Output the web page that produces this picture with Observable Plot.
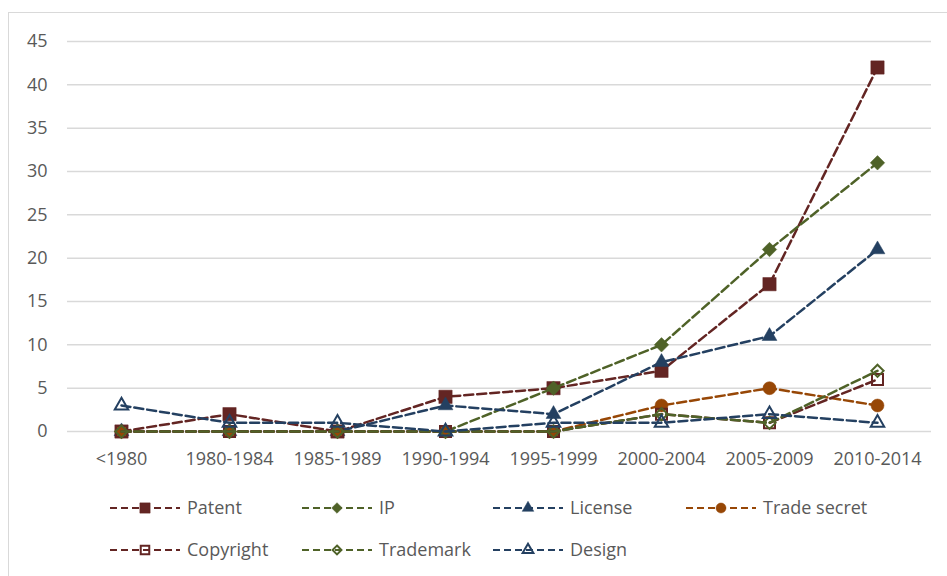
<!DOCTYPE html>
<html><head><meta charset="utf-8">
<script src="https://cdn.jsdelivr.net/npm/d3@7"></script>
<script src="https://cdn.jsdelivr.net/npm/@observablehq/plot@0.6"></script>
<style>
body{margin:0;background:#fff;width:947px;height:576px;overflow:hidden;position:relative;font-family:"Open Sans",sans-serif;}
#frame{position:absolute;left:8px;top:12px;width:1200px;height:800px;border:1px solid #d9d9d9;}
#chart{position:absolute;left:0;top:0;}
#legend{position:absolute;left:0;top:480px;}
</style></head><body>
<div id="frame"></div>
<div id="chart"></div>
<div id="legend"></div>
<script>
const periods = ["<1980","1980-1984","1985-1989","1990-1994","1995-1999","2000-2004","2005-2009","2010-2014"];
const patent      = [0, 2, 0, 4, 5, 7, 17, 42];
const ip          = [0, 0, 0, 0, 5, 10, 21, 31];
const license     = [0, 0, 0, 3, 2, 8, 11, 21];
const tradeSecret = [0, 0, 0, 0, 0, 3, 5, 3];
const copyright   = [0, 0, 0, 0, 0, 2, 1, 6];
const trademark   = [0, 0, 0, 0, 0, 2, 1, 7];
const design      = [3, 1, 1, 0, 1, 1, 2, 1];
const yTicks = [0, 5, 10, 15, 20, 25, 30, 35, 40, 45];

const RED = "#632523", GREEN = "#4f6228", BLUE = "#244061", ORANGE = "#974706";
const series = [
  {name:"Patent", values:patent, color:RED, symbol:"square", filled:true, r:7.5, lr:5.8},
  {name:"IP", values:ip, color:GREEN, symbol:"diamond2", filled:true, r:6.5, lr:4.8},
  {name:"License", values:license, color:BLUE, symbol:"triangle", filled:true, r:5.5, lr:4.3},
  {name:"Trade secret", values:tradeSecret, color:ORANGE, symbol:"circle", filled:true, r:6.5, lr:5},
  {name:"Copyright", values:copyright, color:RED, symbol:"square", filled:false, r:6.2, lr:4.8},
  {name:"Trademark", values:trademark, color:GREEN, symbol:"diamond2", filled:false, r:5.5, lr:4},
  {name:"Design", values:design, color:BLUE, symbol:"triangle", filled:false, r:5, lr:4}
];
const rows = s => periods.map((p, i) => ({period:p, value:s.values[i], series:s.name}));

const marks = [
  Plot.ruleY(yTicks, {stroke:"#d9d9d9", strokeWidth:1.5}),
  Plot.axisY(yTicks, {tickSize:0, tickPadding:20, fontSize:18, fill:"#595959"}),
  Plot.axisX({tickSize:0, tickPadding:21, fontSize:18, fill:"#595959"})
];
for (const s of series) {
  marks.push(Plot.line(rows(s), {x:"period", y:"value", stroke:s.color, strokeWidth:2.5, strokeDasharray:"9,4"}));
  marks.push(Plot.dot(rows(s), {x:"period", y:"value", symbol:s.symbol, r:s.r,
    fill: s.filled ? s.color : "none", stroke:s.color, strokeWidth: s.filled ? 0.5 : 2}));
}

const chart = Plot.plot({
  width:947, height:470,
  marginLeft:67, marginRight:16, marginTop:41, marginBottom:39,
  style:{fontFamily:"Open Sans", fontSize:"18px", background:"transparent", color:"#595959"},
  x:{type:"point", domain:periods, padding:0.5, label:null},
  y:{domain:[0,45], label:null},
  marks
});
document.getElementById("chart").append(chart);

// Legend
const symMap = {square:d3.symbolSquare, diamond2:d3.symbolDiamond2, triangle:d3.symbolTriangle, circle:d3.symbolCircle};
const lsvg = d3.select("#legend").append("svg").attr("width",947).attr("height",96)
  .style("font-family","Open Sans").style("font-size","18px");
const colX = [110, 302, 493, 686];
const rowY = [28, 70];
series.forEach((s, i) => {
  const col = i < 4 ? i : i - 4, row = i < 4 ? 0 : 1;
  const g = lsvg.append("g").attr("transform", `translate(${colX[col]},${rowY[row]})`);
  g.append("line").attr("x1",0).attr("x2",70).attr("y1",0).attr("y2",0)
    .attr("stroke", s.color).attr("stroke-width",2.2).attr("stroke-dasharray","7,4");
  g.append("path").attr("transform","translate(35,0)")
    .attr("d", d3.symbol(symMap[s.symbol], Math.PI * s.lr * s.lr)())
    .attr("fill", s.filled ? s.color : "none").attr("stroke", s.color).attr("stroke-width", s.filled ? 0.5 : 2);
  g.append("text").attr("x",77).attr("y",0).attr("dy","0.35em").attr("fill","#595959").text(s.name);
});
</script>
</body></html>
